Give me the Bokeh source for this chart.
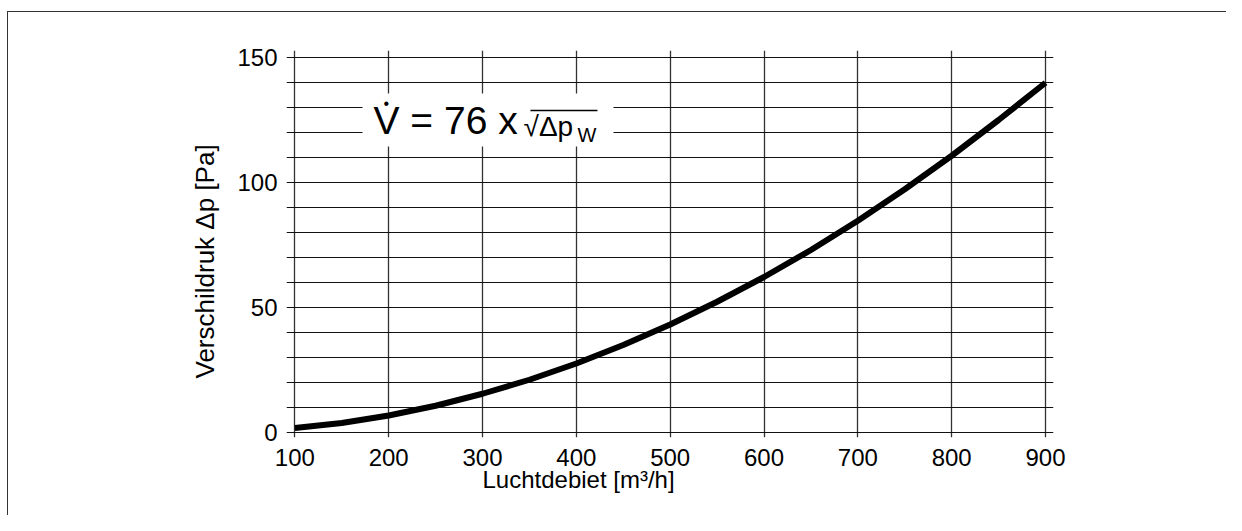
from bokeh.plotting import figure
from bokeh.models import FixedTicker, Label, BoxAnnotation, Title
from bokeh.embed import file_html
from bokeh.resources import INLINE

# Data
flow = [100, 150, 200, 250, 300, 350, 400, 450, 500, 550, 600, 650, 700, 750, 800, 850, 900]
dp = [1.9, 3.9, 6.9, 10.8, 15.6, 21.2, 27.7, 35.1, 43.3, 52.4, 62.3, 73.1, 84.8, 97.4, 110.8, 125.1, 140.0]
x_ticks = [100, 200, 300, 400, 500, 600, 700, 800, 900]
y_ticks = [0, 50, 100, 150]
y_grid = list(range(0, 151, 10))

FONT = "Liberation Sans"

p = figure(frame_width=767, frame_height=387,
           x_range=(91.1, 908.5), y_range=(-1.9, 152.9),
           output_backend="svg", toolbar_location=None,
           min_border_left=286, min_border_right=173,
           min_border_top=50, min_border_bottom=78)
p.outline_line_color = None
p.border_fill_color = None
p.background_fill_color = "white"
p.styles = {"box-shadow": "inset 0 11px 0 0 #ffffff, inset 7px 0 0 0 #ffffff, "
                          "inset 0 12px 0 0 #333333, inset 8px 0 0 0 #333333"}

for ax in (p.xaxis[0], p.yaxis[0]):
    ax.axis_line_color = None
    ax.major_tick_line_color = None
    ax.minor_tick_line_color = None
    ax.major_tick_out = 0
    ax.major_tick_in = 0
    ax.minor_tick_out = 0
    ax.minor_tick_in = 0
    ax.major_label_text_font = FONT
    ax.major_label_text_font_size = "24px"
    ax.major_label_text_color = "black"

p.xaxis.ticker = FixedTicker(ticks=x_ticks)
p.yaxis.ticker = FixedTicker(ticks=y_ticks)
p.xaxis.major_label_standoff = 11
p.yaxis.major_label_standoff = 9

p.xgrid.ticker = FixedTicker(ticks=x_ticks)
p.ygrid.ticker = FixedTicker(ticks=y_grid)
p.xgrid.grid_line_color = "#333333"
p.xgrid.grid_line_width = 1.3
p.ygrid.grid_line_color = "#111111"
p.ygrid.grid_line_width = 1.1

p.line(flow, dp, line_color="black", line_width=6)

# white box behind the formula
p.add_layout(BoxAnnotation(left=172.1, right=439.6, bottom=114.5, top=135.7,
                           fill_color="white", fill_alpha=1.0, line_color=None,
                           level="underlay"))

p.add_layout(Label(x=183.8, y=125.0, text="V = 76 x", text_font=FONT,
                   text_font_size="39px", text_color="black",
                   text_baseline="alphabetic", text_align="left"))
p.add_layout(Label(x=197.4, y=131.9, text="\u2022", text_font=FONT,
                   text_font_size="16px", text_color="black",
                   text_baseline="alphabetic", text_align="center"))
p.add_layout(Label(x=343.7, y=122.6, text="\u221a\u0394p", text_font=FONT,
                   text_font_size="28px", text_color="black",
                   text_baseline="alphabetic", text_align="left"))
p.add_layout(Label(x=401.2, y=119.1, text="W", text_font=FONT,
                   text_font_size="20px", text_color="black",
                   text_baseline="alphabetic", text_align="left"))
p.add_layout(BoxAnnotation(left=351.1, right=422.5, bottom=128.6, top=129.2,
                           fill_color="black", fill_alpha=1.0, line_color=None))

# axis titles
p.add_layout(Title(text="Luchtdebiet [m\u00b3/h]", text_font=FONT,
                   text_font_size="24px", text_font_style="normal",
                   text_color="black", align="left", offset=196, standoff=-10), "below")
p.add_layout(Title(text="Verschildruk \u0394p [Pa]", text_font=FONT,
                   text_font_size="26px", text_font_style="normal",
                   text_color="black", align="left", offset=59, standoff=29), "left")

open("out.html", "w").write(file_html(p, INLINE))
